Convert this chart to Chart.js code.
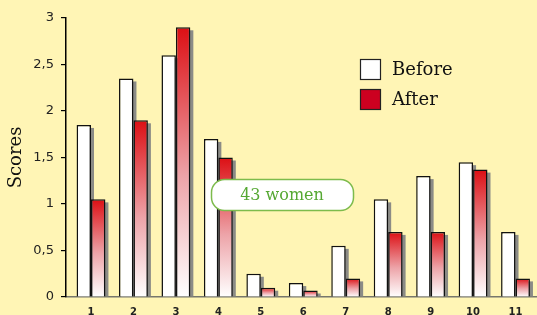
<!DOCTYPE html>
<html><head><meta charset="utf-8">
<script src="https://cdn.jsdelivr.net/npm/chart.js@4/dist/chart.umd.min.js"></script>
<style>html,body{margin:0;padding:0;background:#FFF5B5;overflow:hidden}</style>
</head><body>
<canvas id="c" width="537" height="315" style="display:block;width:537px;height:315px"></canvas>
<script>
const categories = [1, 2, 3, 4, 5, 6, 7, 8, 9, 10, 11];
const beforeValues = [1.85, 2.35, 2.6, 1.7, 0.25, 0.15, 0.55, 1.05, 1.3, 1.45, 0.7];
const afterValues = [1.05, 1.9, 2.9, 1.5, 0.1, 0.07, 0.2, 0.7, 0.7, 1.37, 0.2];
const yTicks = [0, 0.5, 1, 1.5, 2, 2.5, 3];
const seriesNames = ['Before', 'After'];
const yTitle = 'Scores';
const noteText = '43 women';

const RED = '#D20A1E';
const SERIF = '"DejaVu Serif", serif';
const SANS = '"DejaVu Sans", sans-serif';

function afterFill(ctx) {
  if (ctx.type !== 'data') return RED;
  const ys = ctx.chart.scales.y;
  if (!ys || ys.top === undefined) return RED;
  const top = ys.getPixelForValue(ctx.parsed.y);
  const base = ys.getPixelForValue(0);
  if (!isFinite(top) || !isFinite(base) || base - top < 1) return RED;
  const g = ctx.chart.ctx.createLinearGradient(0, top, 0, base);
  g.addColorStop(0, '#DC0F14');
  g.addColorStop(0.55, '#EDA3A8');
  g.addColorStop(1, '#FFFFFF');
  return g;
}

const shadowPlugin = {
  id: 'shadow',
  beforeDatasetsDraw(chart) {
    const c = chart.ctx;
    c.save();
    c.fillStyle = '#8b8b86';
    chart.data.datasets.forEach((d, i) => {
      chart.getDatasetMeta(i).data.forEach(el => {
        const p = el.getProps(['x', 'y', 'base', 'width'], true);
        c.fillRect(p.x - p.width / 2 + 3, p.y + 3, p.width, p.base - p.y - 3);
      });
    });
    c.restore();
  }
};

const overlayPlugin = {
  id: 'overlay',
  afterDraw(chart) {
    const c = chart.ctx;
    c.save();
    const fills = ['#FFFFFF', '#CC0020'];
    seriesNames.forEach((name, i) => {
      const by = 59 + i * 30;
      c.fillStyle = fills[i];
      c.fillRect(360, by, 21, 21);
      c.strokeStyle = '#222';
      c.lineWidth = 1.2;
      c.strokeRect(360.5, by + 0.5, 20, 20);
      c.fillStyle = '#111';
      c.font = '18px ' + SERIF;
      c.textAlign = 'left';
      c.textBaseline = 'middle';
      c.fillText(name, 392, by + 11);
    });
    c.beginPath();
    c.roundRect(211.5, 179.5, 142, 31, 13);
    c.fillStyle = '#FFFFFF';
    c.fill();
    c.strokeStyle = '#7DBB4C';
    c.lineWidth = 1.5;
    c.stroke();
    c.fillStyle = '#55A832';
    c.font = '16px ' + SERIF;
    c.textAlign = 'center';
    c.textBaseline = 'middle';
    c.fillText(noteText, 282, 195.5);
    c.restore();
  }
};

new Chart(document.getElementById('c'), {
  type: 'bar',
  data: {
    labels: categories,
    datasets: [
      { label: seriesNames[0], data: beforeValues, backgroundColor: '#FFFFFF', borderColor: '#111', borderWidth: 1.5 },
      { label: seriesNames[1], data: afterValues, backgroundColor: afterFill, borderColor: '#111', borderWidth: 1.5 }
    ]
  },
  options: {
    responsive: false,
    animation: false,
    devicePixelRatio: 1,
    layout: { padding: { top: 18, right: 0, left: 0, bottom: 0 } },
    datasets: { bar: { categoryPercentage: 0.68, barPercentage: 1 } },
    plugins: { legend: { display: false }, tooltip: { enabled: false } },
    scales: {
      x: {
        type: 'linear',
        offset: false,
        min: 0.411,
        max: 11.506,
        afterBuildTicks: s => { s.ticks = categories.map(v => ({ value: v })); },
        afterFit: s => { s.height = 18; },
        grid: { display: false, drawTicks: false, tickLength: 0 },
        border: { display: true, color: '#77776c', width: 1.5 },
        ticks: {
          autoSkip: false, maxRotation: 0, padding: 9,
          color: '#222', font: { family: SANS, size: 10, weight: 'bold' },
          callback: v => String(v)
        }
      },
      y: {
        min: 0, max: 3,
        afterBuildTicks: s => { s.ticks = yTicks.map(v => ({ value: v })); },
        afterFit: s => { s.width = 66; },
        grid: { drawOnChartArea: false, drawTicks: true, tickLength: 5, color: '#000', lineWidth: 1.2 },
        border: { display: true, color: '#000', width: 1.5 },
        ticks: {
          padding: 7, color: '#222', font: { family: SANS, size: 13 },
          callback: v => String(v).replace('.', ',')
        },
        title: { display: true, text: yTitle, color: '#111', font: { family: SERIF, size: 18 }, padding: { top: 6, bottom: 0 } }
      }
    }
  },
  plugins: [shadowPlugin, overlayPlugin]
});
</script>
</body></html>
